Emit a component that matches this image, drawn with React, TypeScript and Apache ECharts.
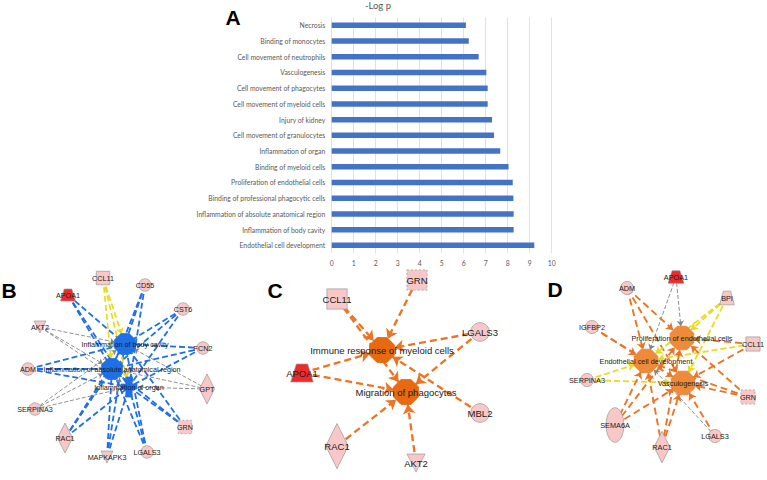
import React, { useEffect, useRef } from "react";
import * as echarts from "echarts";

// ---------- Panel A data ----------
const categories = [
  "Necrosis",
  "Binding of monocytes",
  "Cell movement of neutrophils",
  "Vasculogenesis",
  "Cell movement of phagocytes",
  "Cell movement of myeloid cells",
  "Injury of kidney",
  "Cell movement of granulocytes",
  "Inflammation of organ",
  "Binding of myeloid cells",
  "Proliferation of endothelial cells",
  "Binding of professional phagocytic cells",
  "Inflammation of absolute anatomical region",
  "Inflammation of body cavity",
  "Endothelial cell development",
];
const negLogP = [6.1, 6.23, 6.68, 7.03, 7.09, 7.09, 7.29, 7.38, 7.66, 8.04, 8.23, 8.26, 8.27, 8.27, 9.21];
const xMin = 0;
const xMax = 10;
const xInterval = 1;

// ---------- Network data: [name, x, y, kind] in panel layout units ----------
type NodeRow = [string, number, number, string];
type EdgeRow = [string, string, string];

const nodesB: NodeRow[] = [
  ["CCL11", 103, 8, "square"],
  ["CD55", 145, 15, "circle"],
  ["APOA1", 68, 25, "trapRed"],
  ["CST6", 183, 39, "circle"],
  ["AKT2", 40, 57, "vtri"],
  ["FCN2", 203, 78, "circle"],
  ["ADM", 28, 99, "circle"],
  ["GPT", 207, 119, "diamond"],
  ["SERPINA3", 35, 139, "circle"],
  ["GRN", 185, 157, "squareDashed"],
  ["RAC1", 65, 168, "diamond"],
  ["MAPKAPK3", 107, 187, "vtri"],
  ["LGALS3", 147, 182, "circle"],
  ["Inflammation of body cavity", 125, 74, "octBlue"],
  ["Inflammation of absolute anatomical region", 112, 99, "octBlue"],
  ["Inflammation of organ", 129, 117, "crossBlue"],
];
const fB = ["Inflammation of body cavity", "Inflammation of absolute anatomical region", "Inflammation of organ"];
const blueGenesB = ["APOA1", "CD55", "CST6", "FCN2", "ADM", "GRN", "RAC1", "MAPKAPK3", "LGALS3"];
const grayGenesB = ["AKT2", "SERPINA3", "GPT"];
const yellowGenesB = ["CCL11"];
const edgesB: EdgeRow[] = [
  ...blueGenesB.flatMap((g) => fB.map((f) => [g, f, "blue"] as EdgeRow)),
  ...grayGenesB.flatMap((g) => fB.map((f) => [g, f, "gray"] as EdgeRow)),
  ...yellowGenesB.flatMap((g) => fB.map((f) => [g, f, "yellow"] as EdgeRow)),
];

const nodesC: NodeRow[] = [
  ["GRN", 167, 10, "squareDashed"],
  ["CCL11", 87, 29, "square"],
  ["LGALS3", 230, 62, "circle"],
  ["Immune response of myeloid cells", 132, 80, "octOrange"],
  ["APOA1", 52, 103, "trapRed"],
  ["Migration of phagocytes", 156, 122, "octOrange"],
  ["MBL2", 230, 143, "circle"],
  ["RAC1", 87, 176, "diamond"],
  ["AKT2", 166, 193, "vtri"],
];
const edgesC: EdgeRow[] = [
  ["CCL11", "Immune response of myeloid cells", "orange"],
  ["CCL11", "Migration of phagocytes", "orange"],
  ["GRN", "Immune response of myeloid cells", "orange"],
  ["LGALS3", "Immune response of myeloid cells", "orange"],
  ["LGALS3", "Migration of phagocytes", "orange"],
  ["APOA1", "Immune response of myeloid cells", "orange"],
  ["APOA1", "Migration of phagocytes", "orange"],
  ["MBL2", "Immune response of myeloid cells", "orange"],
  ["RAC1", "Migration of phagocytes", "orange"],
  ["AKT2", "Migration of phagocytes", "orange"],
];

const nodesD: NodeRow[] = [
  ["APOA1", 146, 7, "trapRed"],
  ["ADM", 97, 18, "circle"],
  ["BPI", 197, 28, "trapPink"],
  ["IGFBP2", 62, 57, "circle"],
  ["Proliferation of endothelial cells", 152, 68, "octLight"],
  ["CCL11", 223, 74, "square"],
  ["Endothelial cell development", 116, 91, "octLight"],
  ["SERPINA3", 57, 110, "circle"],
  ["Vasculogenesis", 153, 113, "octLight"],
  ["GRN", 218, 127, "squareDashed"],
  ["SEMA6A", 85, 155, "ellipse"],
  ["LGALS3", 185, 166, "circle"],
  ["RAC1", 132, 177, "diamond"],
];
const P = "Proliferation of endothelial cells";
const E = "Endothelial cell development";
const V = "Vasculogenesis";
const edgesD: EdgeRow[] = [
  ["APOA1", P, "gray"],
  ["APOA1", E, "gray"],
  ["ADM", E, "orange"],
  ["ADM", P, "orange"],
  ["ADM", V, "orange"],
  ["BPI", E, "yellow"],
  ["BPI", V, "yellow"],
  ["BPI", P, "yellow"],
  ["IGFBP2", V, "orange"],
  ["IGFBP2", E, "orange"],
  ["CCL11", P, "orange"],
  ["CCL11", E, "yellow"],
  ["CCL11", V, "orange"],
  ["SERPINA3", E, "yellow"],
  ["SERPINA3", V, "yellow"],
  ["GRN", V, "orange"],
  ["GRN", P, "orange"],
  ["GRN", E, "orange"],
  ["SEMA6A", E, "orange"],
  ["SEMA6A", V, "orange"],
  ["SEMA6A", P, "orange"],
  ["LGALS3", V, "orange"],
  ["LGALS3", E, "gray"],
  ["RAC1", E, "orange"],
  ["RAC1", V, "orange"],
  ["RAC1", P, "orange"],
];

// ---------- styles ----------
const OCT = "path://M30,0 L70,0 L100,30 L100,70 L70,100 L30,100 L0,70 L0,30 Z";
const TRAP = "path://M25,0 L75,0 L100,100 L0,100 Z";
const VTRI = "path://M0,0 L100,0 L50,100 Z";
const CROSS = "path://M30,0 L70,0 L70,35 L100,35 L100,60 L70,60 L70,100 L30,100 L30,60 L0,60 L0,35 L30,35 Z";
const ELL = "path://M50,0 C77.6,0 100,22.4 100,50 C100,77.6 77.6,100 50,100 C22.4,100 0,77.6 0,50 C0,22.4 22.4,0 50,0 Z";

const PINK = "#f8c8c8";
const RED = "#ee2b2b";
const BORDER = "#9a9a9a";

const kindStyle: Record<string, { symbol: string; size: number[]; color: string; border?: string; dashed?: boolean }> = {
  circle: { symbol: "circle", size: [12.5, 12.5], color: PINK },
  square: { symbol: "rect", size: [13.5, 13.5], color: PINK },
  squareDashed: { symbol: "rect", size: [13.5, 13.5], color: PINK, dashed: true },
  trapRed: { symbol: TRAP, size: [15, 12], color: RED },
  trapPink: { symbol: TRAP, size: [14, 13], color: PINK },
  vtri: { symbol: VTRI, size: [12, 12], color: PINK },
  diamond: { symbol: "diamond", size: [15, 30], color: PINK },
  ellipse: { symbol: ELL, size: [17, 33], color: PINK },
  octBlue: { symbol: OCT, size: [21, 21], color: "#1f6fe6", border: "#1f6fe6" },
  crossBlue: { symbol: CROSS, size: [16, 20], color: "#1f6fe6", border: "#1f6fe6" },
  octOrange: { symbol: OCT, size: [17, 17], color: "#e8690f", border: "#d86010" },
  octLight: { symbol: OCT, size: [22.5, 22.5], color: "#ee8a3a", border: "#e07b2a" },
};

const edgeStyle: Record<string, { color: string; width: number; dash: number[]; arrow: boolean }> = {
  blue: { color: "#1f6fe6", width: 1.8, dash: [6, 3], arrow: false },
  yellow: { color: "#e8dc1a", width: 1.7, dash: [6, 3], arrow: true },
  gray: { color: "#858585", width: 0.9, dash: [4, 2], arrow: true },
  orange: { color: "#ec7424", width: 1.8, dash: [7, 4], arrow: true },
};

function buildGraph(
  nodes: NodeRow[],
  edges: EdgeRow[],
  axisIndex: number,
  scale: number,
  fontSize: number,
  arrowSize: number,
  lineScale: number
) {
  const data = nodes.map(([name, x, y, kind]) => {
    const k = kindStyle[kind];
    const sz = kind.startsWith("oct") && scale > 1.2 ? [25, 25] : [k.size[0] * scale, k.size[1] * scale];
    return {
      name,
      value: [x, y],
      symbol: k.symbol,
      symbolSize: sz,
      itemStyle: {
        color: k.color,
        borderColor: k.border || BORDER,
        borderWidth: 0.7,
        borderType: k.dashed ? [2, 2] : "solid",
      },
    };
  });
  const links = edges.map(([s, t, kind]) => {
    const st = edgeStyle[kind];
    return {
      source: s,
      target: t,
      symbol: ["none", st.arrow ? "arrow" : "none"],
      symbolSize: [0, kind === "gray" ? arrowSize * 0.8 : arrowSize],
      lineStyle: { color: st.color, width: st.width * lineScale, type: st.dash, opacity: 1, curveness: 0 },
    };
  });
  return {
    type: "graph",
    coordinateSystem: "cartesian2d",
    xAxisIndex: axisIndex,
    yAxisIndex: axisIndex,
    layout: "none",
    silent: true,
    roam: false,
    data,
    links,
    label: {
      show: true,
      position: "inside",
      color: "#1a1a1a",
      fontFamily: "Liberation Sans",
      fontSize,
    },
    emphasis: { disabled: true },
  };
}

function letter(text: string, x: number, y: number) {
  return {
    type: "text",
    x,
    y,
    style: {
      text,
      fill: "#000",
      font: "bold 21px 'Liberation Sans'",
      align: "center",
      verticalAlign: "middle",
      textAlign: "center",
      textVerticalAlign: "middle",
    },
  };
}

export default function App() {
  const ref = useRef<HTMLDivElement>(null);
  useEffect(() => {
    if (!ref.current) return;
    const chart = echarts.init(ref.current, undefined, { renderer: "svg" });
    const hiddenX = (gridIndex: number, max: number) => ({
      type: "value",
      gridIndex,
      min: 0,
      max,
      show: false,
      splitLine: { show: false },
    });
    const hiddenY = (gridIndex: number, max: number) => ({
      type: "value",
      gridIndex,
      min: 0,
      max,
      inverse: true,
      show: false,
      splitLine: { show: false },
    });
    chart.setOption({
      animation: false,
      backgroundColor: "#ffffff",
      grid: [
        { left: 331.7, top: 17.5, width: 220, height: 235.7 },
        { left: 0, top: 270, width: 240, height: 210 },
        { left: 250, top: 270, width: 270, height: 210 },
        { left: 530, top: 270, width: 237, height: 210 },
      ],
      xAxis: [
        {
          type: "value",
          gridIndex: 0,
          min: xMin,
          max: xMax,
          interval: xInterval,
          axisLine: { show: false },
          axisTick: { show: false },
          splitLine: { show: true, lineStyle: { color: "#d9d9d9", width: 0.8 } },
          axisLabel: { fontSize: 6.8, color: "#595959", fontFamily: "Lato", margin: 6 },
        },
        hiddenX(1, 240),
        hiddenX(2, 270),
        hiddenX(3, 237),
      ],
      yAxis: [
        {
          type: "category",
          gridIndex: 0,
          data: categories,
          inverse: true,
          axisLine: { show: false },
          axisTick: { show: false },
          axisLabel: { fontSize: 6.8, color: "#595959", fontFamily: "Lato", margin: 6.5 },
        },
        hiddenY(1, 210),
        hiddenY(2, 210),
        hiddenY(3, 210),
      ],
      graphic: [
        letter("A", 233, 17),
        letter("B", 9, 290),
        letter("C", 275, 290),
        letter("D", 555, 289),
        {
          type: "text",
          x: 378,
          y: 5,
          style: {
            text: "-Log p",
            fill: "#595959",
            font: "9.5px Lato",
            align: "center",
            verticalAlign: "middle",
            textAlign: "center",
            textVerticalAlign: "middle",
          },
        },
      ],
      series: [
        {
          type: "bar",
          xAxisIndex: 0,
          yAxisIndex: 0,
          data: negLogP,
          barWidth: 5.5,
          itemStyle: { color: "#4472c4" },
          silent: true,
        },
        buildGraph(nodesB, edgesB, 1, 1, 7.2, 6, 1),
        buildGraph(nodesC, edgesC, 2, 1.5, 9.5, 9.5, 1.3),
        buildGraph(nodesD, edgesD, 3, 1.05, 7.3, 7, 1.05),
      ],
    });
    return () => chart.dispose();
  }, []);
  return (
    <div
      ref={ref}
      style={{ position: "fixed", left: 0, top: 0, width: 767, height: 480, background: "#fff" }}
    />
  );
}
